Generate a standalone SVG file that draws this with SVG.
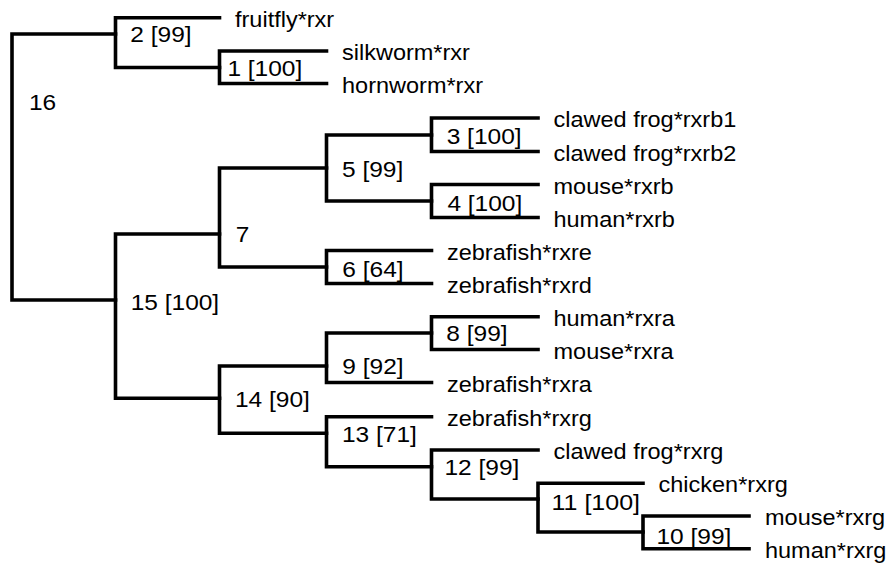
<svg xmlns="http://www.w3.org/2000/svg" width="892" height="565" viewBox="0 0 892 565">
  <style>
    .edge { fill: none; stroke: #000; stroke-width: 3.6; stroke-linecap: square; stroke-linejoin: miter; }
    .lbl { font-family: "Liberation Sans", Arial, Helvetica, sans-serif; font-size: 21.5px; fill: #000; }
  </style>
  <rect width="892" height="565" fill="#fff"/>

  <!-- Branches: each internal node is drawn as a bracket joining its two children -->
  <g id="connectors">
    <path class="edge" d="M115.5,34 H12 V300 H115.5"/>               <!-- 16 (root) -->
    <path class="edge" d="M219.5,17.7 H115.5 V67.5 H219.5"/>          <!-- 2 -->
    <path class="edge" d="M326.5,51 H219.5 V83.5 H326.5"/>            <!-- 1 -->
    <path class="edge" d="M219.5,234 H115.5 V398.3 H219.5"/>          <!-- 15 -->
    <path class="edge" d="M326.5,168 H219.5 V267 H326.5"/>            <!-- 7 -->
    <path class="edge" d="M431.5,135 H326.5 V201 H431.5"/>            <!-- 5 -->
    <path class="edge" d="M538,118 H431.5 V151.5 H538"/>              <!-- 3 -->
    <path class="edge" d="M538,184.5 H431.5 V217.5 H538"/>            <!-- 4 -->
    <path class="edge" d="M431.5,250.5 H326.5 V283.5 H431.5"/>        <!-- 6 -->
    <path class="edge" d="M326.5,366 H219.5 V433.3 H326.5"/>          <!-- 14 -->
    <path class="edge" d="M431.5,333 H326.5 V382.5 H431.5"/>          <!-- 9 -->
    <path class="edge" d="M538,316.7 H431.5 V349.5 H538"/>            <!-- 8 -->
    <path class="edge" d="M431.5,416.7 H326.5 V466.7 H431.5"/>        <!-- 13 -->
    <path class="edge" d="M538,450 H431.5 V499 H538"/>                <!-- 12 -->
    <path class="edge" d="M643,483.3 H538 V532 H643"/>                <!-- 11 -->
    <path class="edge" d="M749,516 H643 V548.7 H749"/>                <!-- 10 -->
  </g>

  <!-- Internal nodes -->
  <g id="node-16"><text class="lbl" x="29" y="110" textLength="27.2" lengthAdjust="spacingAndGlyphs">16</text></g>
  <g id="node-2"><text class="lbl" x="130.3" y="42" textLength="61.3" lengthAdjust="spacingAndGlyphs">2 [99]</text></g>
  <g id="node-1"><text class="lbl" x="227.4" y="76" textLength="74.9" lengthAdjust="spacingAndGlyphs">1 [100]</text></g>
  <g id="node-15"><text class="lbl" x="130.7" y="310" textLength="88.5" lengthAdjust="spacingAndGlyphs">15 [100]</text></g>
  <g id="node-7"><text class="lbl" x="235.8" y="242" textLength="13.6" lengthAdjust="spacingAndGlyphs">7</text></g>
  <g id="node-5"><text class="lbl" x="342" y="177" textLength="61.3" lengthAdjust="spacingAndGlyphs">5 [99]</text></g>
  <g id="node-3"><text class="lbl" x="446.7" y="143.5" textLength="74.9" lengthAdjust="spacingAndGlyphs">3 [100]</text></g>
  <g id="node-4"><text class="lbl" x="447.4" y="210.7" textLength="74.9" lengthAdjust="spacingAndGlyphs">4 [100]</text></g>
  <g id="node-6"><text class="lbl" x="342.3" y="276.5" textLength="61.3" lengthAdjust="spacingAndGlyphs">6 [64]</text></g>
  <g id="node-14"><text class="lbl" x="235" y="407.3" textLength="74.9" lengthAdjust="spacingAndGlyphs">14 [90]</text></g>
  <g id="node-9"><text class="lbl" x="342.3" y="373.5" textLength="61.3" lengthAdjust="spacingAndGlyphs">9 [92]</text></g>
  <g id="node-8"><text class="lbl" x="446.3" y="341" textLength="61.3" lengthAdjust="spacingAndGlyphs">8 [99]</text></g>
  <g id="node-13"><text class="lbl" x="342" y="441.7" textLength="74.9" lengthAdjust="spacingAndGlyphs">13 [71]</text></g>
  <g id="node-12"><text class="lbl" x="444.5" y="475" textLength="74.9" lengthAdjust="spacingAndGlyphs">12 [99]</text></g>
  <g id="node-11"><text class="lbl" x="551.5" y="510" textLength="88.5" lengthAdjust="spacingAndGlyphs">11 [100]</text></g>
  <g id="node-10"><text class="lbl" x="656.5" y="544" textLength="74.9" lengthAdjust="spacingAndGlyphs">10 [99]</text></g>

  <!-- Leaves -->
  <g id="leaf-fruitfly-rxr"><text class="lbl" x="235" y="26.7" textLength="99.2" lengthAdjust="spacingAndGlyphs">fruitfly*rxr</text></g>
  <g id="leaf-silkworm-rxr"><text class="lbl" x="342" y="60" textLength="127.9" lengthAdjust="spacingAndGlyphs">silkworm*rxr</text></g>
  <g id="leaf-hornworm-rxr"><text class="lbl" x="342" y="92.5" textLength="141" lengthAdjust="spacingAndGlyphs">hornworm*rxr</text></g>
  <g id="leaf-frog-rxrb1"><text class="lbl" x="553.5" y="127" textLength="182.8" lengthAdjust="spacingAndGlyphs">clawed frog*rxrb1</text></g>
  <g id="leaf-frog-rxrb2"><text class="lbl" x="553.5" y="160.5" textLength="182.8" lengthAdjust="spacingAndGlyphs">clawed frog*rxrb2</text></g>
  <g id="leaf-mouse-rxrb"><text class="lbl" x="553.5" y="193.5" textLength="120.1" lengthAdjust="spacingAndGlyphs">mouse*rxrb</text></g>
  <g id="leaf-human-rxrb"><text class="lbl" x="553.5" y="226.5" textLength="121.4" lengthAdjust="spacingAndGlyphs">human*rxrb</text></g>
  <g id="leaf-zebrafish-rxre"><text class="lbl" x="447" y="259.5" textLength="144.9" lengthAdjust="spacingAndGlyphs">zebrafish*rxre</text></g>
  <g id="leaf-zebrafish-rxrd"><text class="lbl" x="447" y="292.5" textLength="144.9" lengthAdjust="spacingAndGlyphs">zebrafish*rxrd</text></g>
  <g id="leaf-human-rxra"><text class="lbl" x="553.5" y="325.7" textLength="121.4" lengthAdjust="spacingAndGlyphs">human*rxra</text></g>
  <g id="leaf-mouse-rxra"><text class="lbl" x="553.5" y="358.5" textLength="120.1" lengthAdjust="spacingAndGlyphs">mouse*rxra</text></g>
  <g id="leaf-zebrafish-rxra"><text class="lbl" x="447" y="391.5" textLength="144.9" lengthAdjust="spacingAndGlyphs">zebrafish*rxra</text></g>
  <g id="leaf-zebrafish-rxrg"><text class="lbl" x="447" y="425.7" textLength="144.9" lengthAdjust="spacingAndGlyphs">zebrafish*rxrg</text></g>
  <g id="leaf-frog-rxrg"><text class="lbl" x="553.5" y="459" textLength="169.8" lengthAdjust="spacingAndGlyphs">clawed frog*rxrg</text></g>
  <g id="leaf-chicken-rxrg"><text class="lbl" x="658.5" y="492.3" textLength="129.3" lengthAdjust="spacingAndGlyphs">chicken*rxrg</text></g>
  <g id="leaf-mouse-rxrg"><text class="lbl" x="765" y="525" textLength="120.1" lengthAdjust="spacingAndGlyphs">mouse*rxrg</text></g>
  <g id="leaf-human-rxrg"><text class="lbl" x="765" y="557.7" textLength="121.4" lengthAdjust="spacingAndGlyphs">human*rxrg</text></g>
</svg>
